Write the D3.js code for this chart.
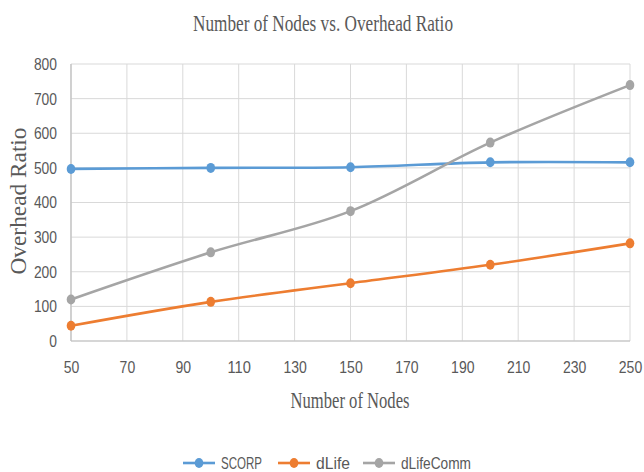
<!DOCTYPE html>
<html>
<head>
<meta charset="utf-8">
<script src="https://cdn.jsdelivr.net/npm/d3@7"></script>
<style>
  body { margin: 0; background: #fff; }
  text { fill: #595959; }
</style>
</head>
<body>
<div id="chart-area"></div>
<script>
// data
var nodes = [50, 100, 150, 200, 250];
var scorp = [497, 500, 502, 516, 516];
var dlife = [44, 113, 167, 220, 282];
var dlifeComm = [120, 256, 375, 573, 739];
var xTicks = [50, 70, 90, 110, 130, 150, 170, 190, 210, 230, 250];
var yTicks = [0, 100, 200, 300, 400, 500, 600, 700, 800];

var seriesNames = ['SCORP', 'dLife', 'dLifeComm'];
var seriesColors = ['#5b9bd5', '#ed7d31', '#a5a5a5'];
var seriesValues = [scorp, dlife, dlifeComm];

var def = {
    width: 644,
    height: 472,
    left: 71,
    right: 630,
    top: 64,
    bottom: 341
};

var svg = d3.select('#chart-area').append('svg')
    .attr('width', def.width)
    .attr('height', def.height);

var x = d3.scaleLinear().domain([50, 250]).range([def.left, def.right]);
var y = d3.scaleLinear().domain([0, 800]).range([def.bottom, def.top]);

// grid
var grid = svg.append('g');
grid.selectAll('line.h').data(yTicks).enter().append('line')
    .attr('x1', def.left).attr('x2', def.right)
    .attr('y1', d => y(d)).attr('y2', d => y(d))
    .attr('stroke', '#d9d9d9').attr('stroke-width', 1);
grid.selectAll('line.v').data(xTicks).enter().append('line')
    .attr('y1', def.top).attr('y2', def.bottom)
    .attr('x1', d => x(d)).attr('x2', d => x(d))
    .attr('stroke', '#d9d9d9').attr('stroke-width', 1);

// axes lines
svg.append('line').attr('x1', def.left).attr('x2', def.right)
    .attr('y1', def.bottom).attr('y2', def.bottom)
    .attr('stroke', '#bfbfbf').attr('stroke-width', 1.2);
svg.append('line').attr('x1', def.left).attr('x2', def.left)
    .attr('y1', def.top).attr('y2', def.bottom)
    .attr('stroke', '#bfbfbf').attr('stroke-width', 1.2);

var tickFont = '"Liberation Sans", Arial, sans-serif';

// y tick labels
var yAx = d3.axisLeft(y).tickValues(yTicks).tickSize(0).tickPadding(14);
var yG = svg.append('g').attr('transform', 'translate(' + def.left + ',0)').call(yAx);
yG.select('.domain').remove();
yG.selectAll('text').attr('font-family', tickFont).attr('font-size', '17px')
    .attr('textLength', d => String(d).length * 7.7).attr('lengthAdjust', 'spacingAndGlyphs')
    .style('fill', '#595959');

// x tick labels
var xAx = d3.axisBottom(x).tickValues(xTicks).tickSize(0).tickPadding(20);
var xG = svg.append('g').attr('transform', 'translate(0,' + def.bottom + ')').call(xAx);
xG.select('.domain').remove();
xG.selectAll('text').attr('font-family', tickFont).attr('font-size', '17px')
    .attr('textLength', d => String(d).length * 7.8).attr('lengthAdjust', 'spacingAndGlyphs')
    .style('fill', '#595959');

// title and labels
var serif = '"Liberation Serif", "Times New Roman", serif';
svg.append('text')
    .attr('x', 323).attr('y', 31)
    .attr('text-anchor', 'middle')
    .attr('font-family', serif).attr('font-size', '24px')
    .attr('textLength', 260).attr('lengthAdjust', 'spacingAndGlyphs')
    .text('Number of Nodes vs. Overhead Ratio');

svg.append('text')
    .attr('x', 350).attr('y', 408)
    .attr('text-anchor', 'middle')
    .attr('font-family', serif).attr('font-size', '23px')
    .attr('textLength', 119).attr('lengthAdjust', 'spacingAndGlyphs')
    .text('Number of Nodes');

svg.append('text')
    .attr('transform', 'translate(26,201) rotate(-90)')
    .attr('text-anchor', 'middle')
    .attr('font-family', serif).attr('font-size', '23px')
    .attr('textLength', 147).attr('lengthAdjust', 'spacingAndGlyphs')
    .text('Overhead Ratio');

// lines
var line = d3.line()
    .x(d => x(d[0]))
    .y(d => y(d[1]))
    .curve(d3.curveCatmullRom.alpha(0.5));

seriesValues.forEach((vals, i) => {
    var pts = nodes.map((n, j) => [n, vals[j]]);
    svg.append('path')
        .datum(pts)
        .attr('d', line)
        .attr('fill', 'none')
        .attr('stroke', seriesColors[i])
        .attr('stroke-width', 2.6);
    svg.selectAll('ellipse.s' + i).data(pts).enter().append('ellipse')
        .attr('class', 's' + i)
        .attr('cx', d => x(d[0]))
        .attr('cy', d => y(d[1]))
        .attr('rx', 4.3).attr('ry', 5)
        .attr('fill', seriesColors[i]);
});

// legend
var legendX = [183, 278, 363];
var legendW = [41, 34, 70];
var legend = svg.append('g');
seriesNames.forEach((name, i) => {
    var row = legend.append('g').attr('transform', 'translate(' + legendX[i] + ',463)');
    row.append('line').attr('x1', 0).attr('x2', 32).attr('y1', 0).attr('y2', 0)
        .attr('stroke', seriesColors[i]).attr('stroke-width', 2.6);
    row.append('ellipse').attr('cx', 16).attr('cy', 0).attr('rx', 4.3).attr('ry', 5)
        .attr('fill', seriesColors[i]);
    row.append('text').attr('x', 38).attr('y', 6)
        .attr('font-family', tickFont).attr('font-size', '17px')
        .attr('textLength', legendW[i]).attr('lengthAdjust', 'spacingAndGlyphs')
        .text(name);
});
</script>
</body>
</html>
